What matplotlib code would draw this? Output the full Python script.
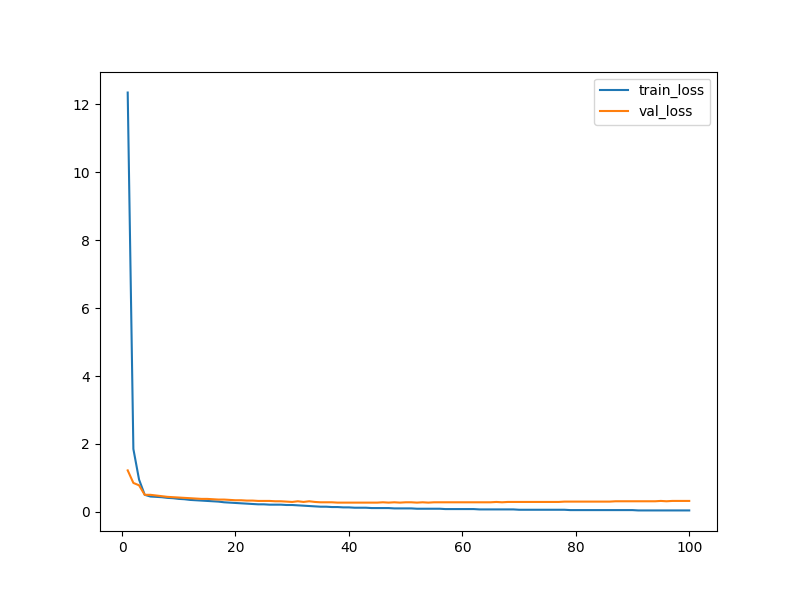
import matplotlib
matplotlib.use("Agg")
import matplotlib.pyplot as plt

train_loss = [12.35, 1.85, 0.95, 0.50, 0.45, 0.44, 0.43, 0.41, 0.40, 0.38,
              0.37, 0.35, 0.34, 0.33, 0.32, 0.31, 0.30, 0.28, 0.27, 0.26,
              0.25, 0.24, 0.23, 0.22, 0.22, 0.21, 0.21, 0.21, 0.20, 0.20,
              0.19, 0.18, 0.17, 0.16, 0.15, 0.15, 0.14, 0.14, 0.13, 0.13,
              0.12, 0.12, 0.12, 0.11, 0.11, 0.11, 0.11, 0.10, 0.10, 0.10,
              0.10, 0.09, 0.09, 0.09, 0.09, 0.09, 0.08, 0.08, 0.08, 0.08,
              0.08, 0.08, 0.07, 0.07, 0.07, 0.07, 0.07, 0.07, 0.07, 0.06,
              0.06, 0.06, 0.06, 0.06, 0.06, 0.06, 0.06, 0.06, 0.05, 0.05,
              0.05, 0.05, 0.05, 0.05, 0.05, 0.05, 0.05, 0.05, 0.05, 0.05,
              0.04, 0.04, 0.04, 0.04, 0.04, 0.04, 0.04, 0.04, 0.04, 0.04]
val_loss = [1.22, 0.85, 0.78, 0.50, 0.50, 0.48, 0.46, 0.44, 0.43, 0.42,
            0.41, 0.40, 0.39, 0.38, 0.38, 0.37, 0.36, 0.36, 0.35, 0.34,
            0.34, 0.33, 0.33, 0.32, 0.32, 0.32, 0.31, 0.31, 0.30, 0.29,
            0.31, 0.29, 0.31, 0.29, 0.28, 0.28, 0.28, 0.27, 0.27, 0.27,
            0.27, 0.27, 0.27, 0.27, 0.27, 0.28, 0.27, 0.28, 0.27, 0.28,
            0.28, 0.27, 0.28, 0.27, 0.28, 0.28, 0.28, 0.28, 0.28, 0.28,
            0.28, 0.28, 0.28, 0.28, 0.28, 0.29, 0.28, 0.29, 0.29, 0.29,
            0.29, 0.29, 0.29, 0.29, 0.29, 0.29, 0.29, 0.30, 0.30, 0.30,
            0.30, 0.30, 0.30, 0.30, 0.30, 0.30, 0.31, 0.31, 0.31, 0.31,
            0.31, 0.31, 0.31, 0.31, 0.32, 0.31, 0.32, 0.32, 0.32, 0.32]
epochs = list(range(1, len(train_loss) + 1))

fig, ax = plt.subplots(figsize=(7.97, 5.97), dpi=100)
ax.plot(epochs, train_loss, label="train_loss")
ax.plot(epochs, val_loss, label="val_loss")
ax.legend()
fig.savefig("out.png")
